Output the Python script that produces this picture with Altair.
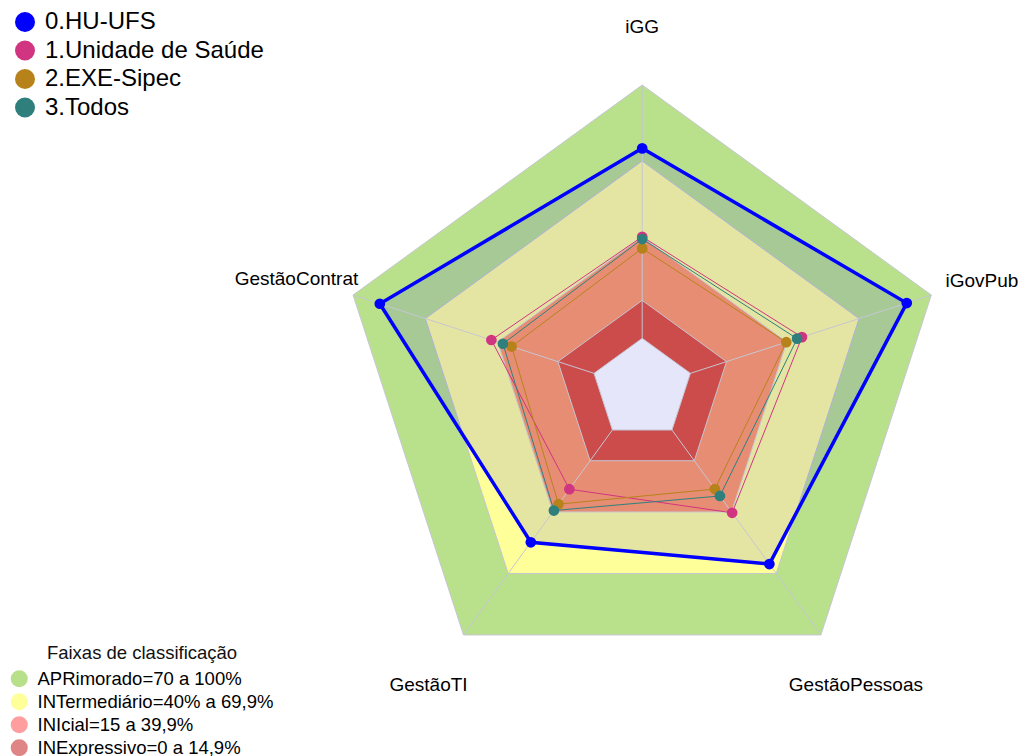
import altair as alt
import pandas as pd

# ---------------- data ----------------
axes = ["iGG", "iGovPub", "GestãoPessoas", "GestãoTI", "GestãoContrat"]
series_names = ["0.HU-UFS", "1.Unidade de Saúde", "2.EXE-Sipec", "3.Todos"]
hu_ufs = [75.0, 89.8, 65.4, 54.8, 88.9]
unidade_saude = [40.1, 46.3, 40.4, 28.9, 42.6]
exe_sipec = [35.5, 39.8, 28.8, 36.2, 34.2]
todos = [39.2, 44.3, 32.2, 39.3, 37.8]
series_colors = ["#0000ff", "#d13581", "#b8821a", "#2f807d"]

band_labels = ["APRimorado=70 a 100%", "INTermediário=40% a 69,9%",
               "INIcial=15 a 39,9%", "INExpressivo=0 a 14,9%"]
band_legend_colors = ["#b8e08a", "#ffff99", "#ff9e9e", "#df8585"]
band_levels = [100, 70, 40, 15, 0]
band_fills = ["#b9e08b", "#ffff99", "#e68d73", "#cc4b4b", "#e6e6fa"]

R_MIN = -20      # value at the centre of the radar
R_MAX = 100
label_r = [123.5, 121.0, 123.5, 123.5, 123.5]  # radial position of axis names

# scale frames (plot area 1010 x 750 px, 2.5333 px per unit)
PX = 304 / (R_MAX - R_MIN)
W, H = 1010, 750
CX, CY = 634.2, 381.0
XMIN, XMAX = -CX / PX, (W - CX) / PX
YMAX, YMIN = CY / PX, (CY - H) / PX

xs = alt.Scale(domain=[XMIN, XMAX], nice=False, zero=False)
ys = alt.Scale(domain=[YMIN, YMAX], nice=False, zero=False)


def ring(values, name):
    return [{"name": name, "i": k % 5, "k": k, "v": values[k % 5]} for k in range(6)]


def polar(ch):
    return ch.transform_calculate(
        r=f"datum.v - ({R_MIN})",
        a="datum.i * 2 * PI / 5",
    ).transform_calculate(
        x="datum.r * sin(datum.a)",
        y="datum.r * cos(datum.a)",
    )


def XY():
    return dict(x=alt.X("x:Q", scale=xs, axis=None), y=alt.Y("y:Q", scale=ys, axis=None))


layers = []

# dummy layer for the bands legend (hidden under the centre)
legend_df = pd.DataFrame({"band": band_labels, "v": [R_MIN] * 4, "i": [0] * 4})
layers.append(polar(alt.Chart(legend_df)).mark_point(filled=True, size=4, opacity=1).encode(
    **XY(),
    fill=alt.Fill("band:N", scale=alt.Scale(domain=band_labels, range=band_legend_colors),
                  legend=alt.Legend(title="Faixas de classificação", orient="none",
                                    legendX=2, legendY=636, titleAnchor="middle",
                                    titleFontSize=18.5, labelFontSize=18.5, symbolSize=290,
                                    symbolType="circle", rowPadding=4, titlePadding=7,
                                    labelOffset=9, symbolStrokeWidth=0, titleLimit=500)),
))


def band_layer(level, color):
    df = pd.DataFrame(ring([level] * 5, str(level)))
    return polar(alt.Chart(df)).mark_line(fill=color, stroke="#c6c6d2", strokeWidth=1).encode(
        **XY(), order="k:Q")


layers.append(band_layer(band_levels[0], band_fills[0]))
layers.append(band_layer(band_levels[1], band_fills[1]))

# blue translucent fill of HU-UFS
hu_df = pd.DataFrame(ring(hu_ufs, series_names[0]))
layers.append(polar(alt.Chart(hu_df)).mark_line(fill="#0000ff", fillOpacity=0.1, strokeOpacity=0).encode(
    **XY(), order="k:Q"))

for lvl, col in zip(band_levels[2:], band_fills[2:]):
    layers.append(band_layer(lvl, col))

# spokes
spk = pd.DataFrame({"axis": axes, "i": list(range(5))})
layers.append(alt.Chart(spk).transform_calculate(
    a="datum.i * 2 * PI / 5"
).transform_calculate(
    x1=f"({0 - R_MIN}) * sin(datum.a)", y1=f"({0 - R_MIN}) * cos(datum.a)",
    x2=f"({R_MAX - R_MIN}) * sin(datum.a)", y2=f"({R_MAX - R_MIN}) * cos(datum.a)",
).mark_rule(color="#c6c6d2", strokeWidth=1).encode(
    x=alt.X("x1:Q", scale=xs, axis=None), y=alt.Y("y1:Q", scale=ys, axis=None),
    x2="x2:Q", y2="y2:Q"))

# other series lines (one layer each, fixed colour)
rows = []
for nm, vals, col in zip(series_names[1:], [unidade_saude, exe_sipec, todos], series_colors[1:]):
    r = ring(vals, nm)
    rows += r
    layers.append(polar(alt.Chart(pd.DataFrame(r))).mark_line(color=col, strokeWidth=1).encode(
        **XY(), order="k:Q"))

# HU-UFS thick line
layers.append(polar(alt.Chart(hu_df)).mark_line(color="#0000ff", strokeWidth=3.5).encode(
    **XY(), order="k:Q"))

# points
all_df = pd.DataFrame(ring(hu_ufs, series_names[0]) + rows)
layers.append(polar(alt.Chart(all_df)).transform_filter("datum.k < 5").mark_point(
    filled=True, size=115, opacity=1).encode(
    **XY(),
    color=alt.Color("name:N", scale=alt.Scale(domain=series_names, range=series_colors),
                    legend=alt.Legend(title=None, orient="none", legendX=5, legendY=2,
                                      labelFontSize=24, symbolSize=400, symbolType="circle",
                                      rowPadding=4.5, labelOffset=8, symbolStrokeWidth=0))))

# axis names
lab = pd.DataFrame({"axis": axes, "i": list(range(5)), "v": label_r})
layers.append(polar(alt.Chart(lab)).mark_text(fontSize=19, font="Liberation Sans", color="black",
                                              baseline="middle", align="center", dy=2).encode(
    **XY(), text="axis:N"))

chart = alt.layer(*layers).properties(
    width=W, height=H, autosize=alt.AutoSizeParams(type="none"), padding=0
).configure_view(stroke=None).configure_legend(
    labelFont="Liberation Sans", titleFont="Liberation Sans", titleFontWeight="normal",
    labelColor="black", titleColor="#111111", labelLimit=0, padding=0
)

chart.save("out.html", embed_options={"renderer": "svg", "actions": False})
